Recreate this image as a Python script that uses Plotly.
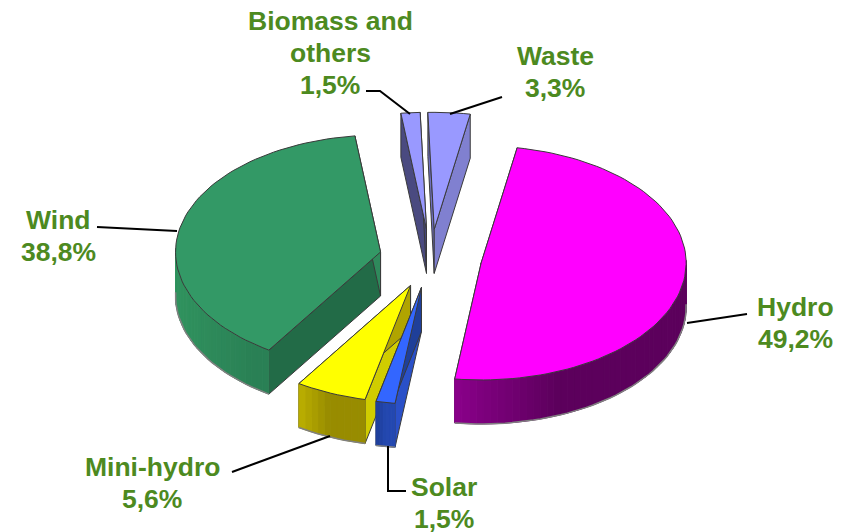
import math
import plotly.graph_objects as go

categories = [["Wind"], ["Biomass and", "others"], ["Waste"], ["Hydro"], ["Solar"], ["Mini-hydro"]]
values = [38.8, 1.5, 3.3, 49.2, 1.5, 5.6]
value_labels = ["38,8%", "1,5%", "3,3%", "49,2%", "1,5%", "5,6%"]
top_colors = ["#339966", "#9999ff", "#9999ff", "#ff00ff", "#3366ff", "#ffff00"]
face_a0 = ["#226b47", "#4a4a80", "#6f6fc0", "#700070", "#2a50c8", "#d0cc00"]
face_a1 = ["#2f8a5c", "#45457a", "#8080d0", "#800080", "#1f3f99", "#b0a400"]
rim_left = ["#31935f", "#45457a", "#8080d0", "#8a008a", "#1f3f99", "#bcb000"]
rim_right = ["#2a8055", "#45457a", "#8080d0", "#5c005c", "#2448b0", "#988c00"]

START_DEG = 237.0
CX, CY = 430.5, 258.5
RX, RY = 205, 117
DEPTH = 44
PULL = 0.25
LINE = "#3a3a3a"
PAGE_INSET = 8  # the page's default body margin

def mix(a, b, f):
    pa = [int(a[i:i + 2], 16) for i in (1, 3, 5)]
    pb = [int(b[i:i + 2], 16) for i in (1, 3, 5)]
    return "rgb(%d,%d,%d)" % tuple(pa[i] + (pb[i] - pa[i]) * f for i in range(3))

fig = go.Figure()

def poly(xs, ys, fill, line=LINE, width=1):
    fig.add_trace(go.Scatter(x=xs + xs[:1], y=ys + ys[:1], mode="lines", fill="toself",
                             fillcolor=fill, line=dict(color=line, width=width),
                             hoverinfo="skip", showlegend=False))

total = sum(values)
order = [0, 1, 2, 3, 5, 4]
spans = []
a = START_DEG
for v in values:
    spans.append((a, a - v / total * 360))
    a = spans[-1][1]

for i in order:
    a0, a1 = spans[i]
    mid = math.radians((a0 + a1) / 2)
    ax = CX + PULL * RX * math.cos(mid)
    ay = CY - PULL * RY * math.sin(mid)
    n = max(6, int(abs(a1 - a0) / 2))
    ts = [math.radians(a0 + (a1 - a0) * k / n) for k in range(n + 1)]
    px = [ax + RX * math.cos(t) for t in ts]
    py = [ay - RY * math.sin(t) for t in ts]
    # radial cut faces
    poly([ax, px[0], px[0], ax], [ay, py[0], py[0] + DEPTH, ay + DEPTH], face_a0[i])
    poly([ax, px[-1], px[-1], ax], [ay, py[-1], py[-1] + DEPTH, ay + DEPTH], face_a1[i])
    # outer rim, shaded strip by strip
    xmin, xmax = min(px), max(px)
    bx, by = [], []
    for k in range(n):
        if math.sin((ts[k] + ts[k + 1]) / 2) < 0.02:
            f = min(1.0, ((px[k] + px[k + 1]) / 2 - xmin) / (0.45 * (xmax - xmin)))
            c = mix(rim_left[i], rim_right[i], f)
            poly([px[k], px[k + 1], px[k + 1], px[k]],
                 [py[k], py[k + 1], py[k + 1] + DEPTH, py[k] + DEPTH], c, line=c)
            bx += [px[k], px[k + 1]]
            by += [py[k] + DEPTH, py[k + 1] + DEPTH]
    if bx:
        fig.add_trace(go.Scatter(x=bx, y=by, mode="lines", line=dict(color="#808080", width=1.5),
                                 hoverinfo="skip", showlegend=False))
    # top face
    poly([ax] + px, [ay] + py, top_colors[i])

leaders = [
    ([97, 177], [227, 231]),
    ([366, 380, 410], [91, 91, 114]),
    ([502, 450], [97, 114]),
    ([747, 687], [314, 323]),
    ([406, 388, 388], [491, 491, 446]),
    ([232, 330], [472, 436]),
]
for lx, ly in leaders:
    fig.add_trace(go.Scatter(x=lx, y=ly, mode="lines", line=dict(color="black", width=2),
                             hoverinfo="skip", showlegend=False))

label_x = [58, 330, 555, 795, 444, 152]
label_top_y = [220, 21, 56, 307, 487, 467]
LINE_GAP = 32
for names, val, lx, ly in zip(categories, value_labels, label_x, label_top_y):
    for j, line_text in enumerate(names + [val]):
        fig.add_annotation(x=lx, y=ly + j * LINE_GAP, text=f"<b>{line_text}</b>", showarrow=False,
                           xanchor="center", yanchor="middle", align="center",
                           font=dict(family="Liberation Sans", size=26.5, color="#4d8a1f"))

fig.update_layout(width=854, height=532, margin=dict(l=0, r=0, t=0, b=0),
                  paper_bgcolor="white", plot_bgcolor="white",
                  xaxis=dict(range=[PAGE_INSET, 854 + PAGE_INSET], visible=False, fixedrange=True),
                  yaxis=dict(range=[532 + PAGE_INSET, PAGE_INSET], visible=False, fixedrange=True))
fig.write_html("out.html")
